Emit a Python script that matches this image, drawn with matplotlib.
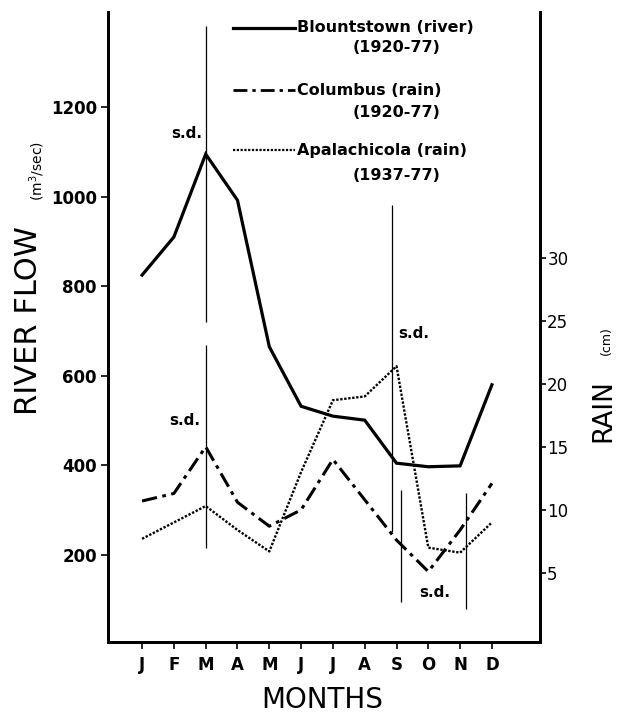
import matplotlib
matplotlib.use("Agg")
import matplotlib.pyplot as plt
from matplotlib.lines import Line2D

plt.rcParams['font.family'] = ['DejaVu Sans']

months = ["J", "F", "M", "A", "M", "J", "J", "A", "S", "O", "N", "D"]
flow_ticks = [200, 400, 600, 800, 1000, 1200]
rain_ticks = [5, 10, 15, 20, 25, 30]

# Blountstown river flow (m3/sec), left axis
blountstown = [825, 910, 1095, 992, 665, 532, 510, 501, 405, 397, 399, 580]
# rain (cm), right axis
columbus = [10.7, 11.3, 15.0, 10.6, 8.7, 10.0, 14.0, 10.8, 7.6, 5.1, 8.4, 12.1]
apalachicola = [7.7, 9.0, 10.3, 8.4, 6.7, 13.0, 18.7, 19.0, 21.4, 7.0, 6.6, 9.0]

# s.d. bars: (month index, low, high)
flow_sd = [(2, 720, 1381)]
columbus_sd = [(2, 7.0, 23.1), (8, 2.7, 11.6)]
apalachicola_sd = [(8, 8.25, 34.2), (10, 2.1, 11.3)]

x = list(range(len(months)))

fig = plt.figure(figsize=(6.21, 7.14), dpi=100)
ax = fig.add_axes([0.174, 0.101, 0.696, 0.882])
ax2 = ax.twinx()

ax.plot(x, blountstown, color='black', lw=2.3, solid_joinstyle='miter')
ax2.plot(x, columbus, color='black', lw=2.2, linestyle=(0, (5, 1.8, 1.2, 1.8)))
ax2.plot(x, apalachicola, color='black', lw=1.7, linestyle=(0, (1, 0.7)))

# s.d. lines
for m, lo, hi in flow_sd:
    ax.vlines(m, lo, hi, color='black', lw=0.9)
for (m, lo, hi), dx in zip(columbus_sd, [0.0, 0.15]):
    ax2.vlines(m + dx, lo, hi, color='black', lw=0.9)
for (m, lo, hi), dx in zip(apalachicola_sd, [-0.13, 0.2]):
    ax2.vlines(m + dx, lo, hi, color='black', lw=0.9)

ax.text(1.4, 1140, "s.d.", fontsize=11, fontweight='bold', ha='center', va='center')
ax2.text(8.55, 24.0, "s.d.", fontsize=11, fontweight='bold', ha='center', va='center')
ax2.text(1.35, 17.1, "s.d.", fontsize=11, fontweight='bold', ha='center', va='center')
ax2.text(9.2, 3.4, "s.d.", fontsize=11, fontweight='bold', ha='center', va='center')

ax.set_xlim(-1.07, 12.52)
ax.set_ylim(6, 1412)
ax2.set_ylim(-0.48, 49.5)

ax.set_xticks(x)
ax.set_xticklabels(months, fontsize=12, fontweight='bold')
ax.set_yticks(flow_ticks)
ax.set_yticklabels([str(v) for v in flow_ticks], fontsize=12, fontweight='bold')
ax2.set_yticks(rain_ticks)
ax2.set_yticklabels([str(v) for v in rain_ticks], fontsize=12)

ax.tick_params(axis='x', length=5, width=1.2, pad=5)
ax.tick_params(axis='y', length=5, width=1.2, pad=3)
ax2.tick_params(axis='y', length=4, width=1.2, pad=1)

for a in (ax, ax2):
    a.spines['top'].set_visible(False)
    for s in ('left', 'bottom', 'right'):
        a.spines[s].set_linewidth(2.0)

# axis titles
ax.text(-0.184, 0.51, "RIVER FLOW", transform=ax.transAxes, rotation=90,
        fontsize=22, ha='center', va='center')
ax.text(-0.165, 0.748, "(m$^3$/sec)", transform=ax.transAxes, rotation=90,
        fontsize=10, ha='center', va='center')
ax.text(1.146, 0.368, "RAIN", transform=ax.transAxes, rotation=90,
        fontsize=19, ha='center', va='center')
ax.text(1.153, 0.478, "(cm)", transform=ax.transAxes, rotation=90,
        fontsize=9, ha='center', va='center')
ax.text(0.495, -0.092, "MONTHS", transform=ax.transAxes,
        fontsize=20, ha='center', va='center')

# legend drawn by hand
legend_rows = [
    ("Blountstown (river)", "(1920-77)", dict(lw=2.3, linestyle='-'), 0.975, 0.944),
    ("Columbus (rain)", "(1920-77)", dict(lw=2.0, linestyle=(0, (5, 1.8, 1.2, 1.8))), 0.876, 0.840),
    ("Apalachicola (rain)", "(1937-77)", dict(lw=1.6, linestyle=(0, (1, 0.7))), 0.781, 0.741),
]
for name, years, style, y1, y2 in legend_rows:
    ax.add_line(Line2D([0.29, 0.433], [y1, y1], transform=ax.transAxes,
                       color='black', **style))
    ax.text(0.437, y1, name, transform=ax.transAxes, fontsize=11.5,
            fontweight='bold', ha='left', va='center')
    ax.text(0.567, y2, years, transform=ax.transAxes, fontsize=11.5,
            fontweight='bold', ha='left', va='center')

fig.savefig("out.png", dpi=100)
